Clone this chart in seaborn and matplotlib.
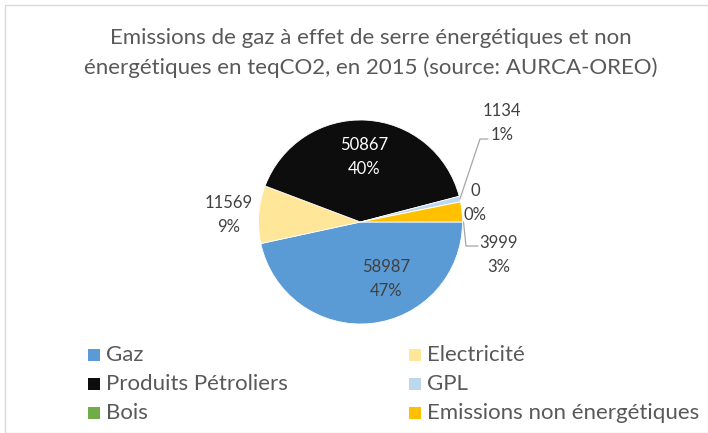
import matplotlib
matplotlib.use("Agg")
import matplotlib.pyplot as plt
import seaborn as sns
import numpy as np
from matplotlib.patches import Rectangle

# ---------------- data ----------------
categories = ["Gaz", "Electricité", "Produits Pétroliers", "GPL", "Bois",
              "Emissions non énergétiques"]
values = [58987, 11569, 50867, 1134, 0, 3999]
percent_labels = ["47%", "9%", "40%", "1%", "0%", "3%"]
colors = ["#5B9BD5", "#FFE699", "#0D0D0D", "#BDD7EE", "#70AD47", "#FFC000"]
title = ("Emissions de gaz à effet de serre énergétiques et non\n"
         "énergétiques en teqCO2, en 2015 (source: AURCA-OREO)")

# ---------------- style ----------------
sns.set_style("white")
plt.rcParams["font.family"] = ["Lato", "DejaVu Sans"]
TXT = "#595959"
LBL = "#404040"

W, H = 708, 433
fig = plt.figure(figsize=(W / 100, H / 100), dpi=100)
ax = fig.add_axes([0, 0, 1, 1])


def Y(py):
    return H - py


cx, cy, R = 360.5, 222, 102
wedges, _ = ax.pie(values, colors=colors, startangle=0, counterclock=False,
                   center=(cx, Y(cy)), radius=R,
                   wedgeprops=dict(edgecolor="white", linewidth=0.6))
ax.set_xlim(0, W)
ax.set_ylim(0, H)
ax.set_aspect("auto")
ax.axis("off")

# chart-area border (top and left edges visible)
fig.patches.append(Rectangle((5, 0), W, H - 5, transform=None, fill=False,
                             edgecolor="#D9D9D9", linewidth=1.0, zorder=0))

# title
fig.text(371 / W, 1 - 53 / H, title, ha="center", va="center", fontsize=16,
         color=TXT, linespacing=1.55)

# data labels (layout positions, pixel coords)
label_xy = [(386, 279), (229, 215), (364, 157), (502, 123), (475, 203), (499, 255)]
for i, (v, p) in enumerate(zip(values, percent_labels)):
    x, y = label_xy[i]
    col = "white" if i == 2 else LBL
    ax.text(x, Y(y), f"{v}\n{p}", ha="center", va="center", fontsize=12,
            color=col, linespacing=1.6)

# leader lines
def edge_point(ang):
    a = np.deg2rad(ang)
    return cx + R * np.cos(a), Y(cy) + R * np.sin(a)

w_gpl = wedges[3]
sx, sy = edge_point((w_gpl.theta1 + w_gpl.theta2) / 2)
ax.plot([sx, 480, 488], [sy, Y(139), Y(139)], color="#A6A6A6", lw=0.9)
w_em = wedges[5]
sx, sy = edge_point(w_em.theta1)
ax.plot([sx + 1, 466, 478], [sy, Y(246), Y(246)], color="#A6A6A6", lw=0.9)

# legend (row-wise, two columns)
row_y = [355, 384, 413]
col_x = [88, 409]
for i, name in enumerate(categories):
    r, cidx = i // 2, i % 2
    mx, my = col_x[cidx], row_y[r]
    ax.add_patch(Rectangle((mx, Y(my) - 6), 12, 12, facecolor=colors[i],
                           edgecolor="none"))
    ax.text(mx + 18, Y(my), name, ha="left", va="center", fontsize=16,
            color=TXT)

fig.savefig("out.png", dpi=100)
